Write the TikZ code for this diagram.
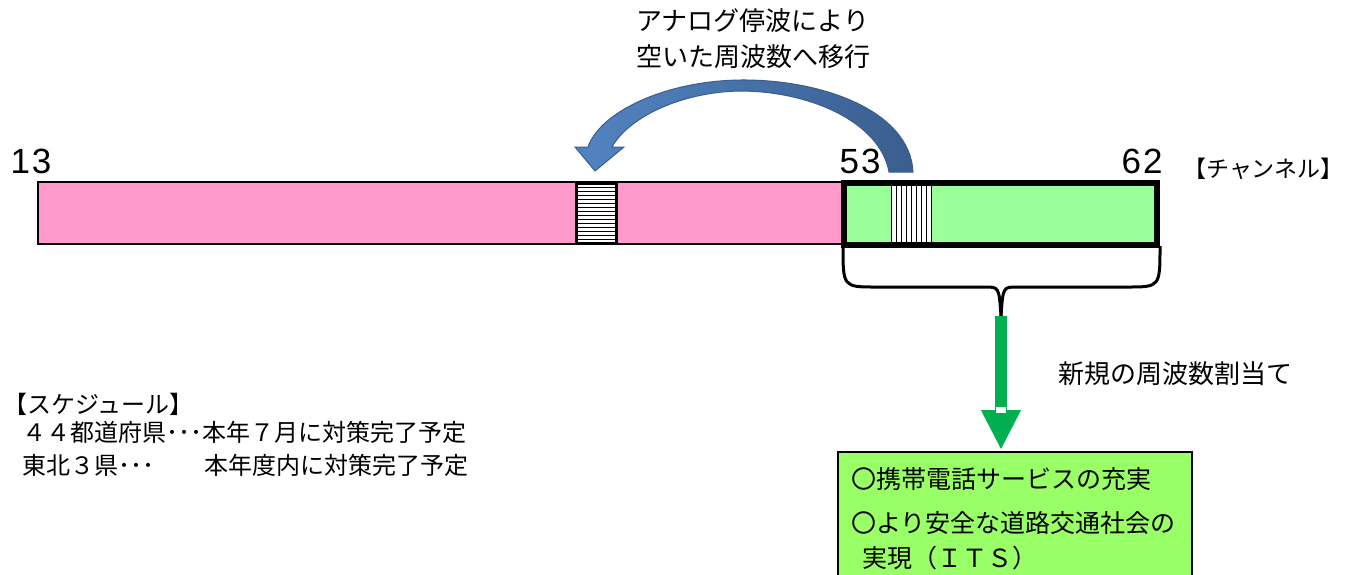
\documentclass[tikz,border=0pt]{standalone}
\usepackage{fontspec}
\setmainfont{Liberation Sans}
\newfontfamily\jpfont{Noto Sans CJK JP}
\usetikzlibrary{arrows.meta}
\definecolor{bandpink}{RGB}{255,153,204}
\definecolor{bandgreen}{RGB}{153,255,153}
\definecolor{boxgreen}{RGB}{153,255,102}
\definecolor{arrowgreen}{RGB}{0,176,80}
\definecolor{bluelight}{RGB}{82,132,194}
\definecolor{bluedark}{RGB}{58,94,142}
\tikzset{
  jptext/.style={inner sep=0pt,anchor=base west,font=\jpfont\fontsize{26}{30}\selectfont},
  chnum/.style={inner sep=0pt,anchor=base,font=\fontsize{35}{35}\selectfont}
}
\begin{document}
\begin{tikzpicture}[x=1pt,y=-1pt]
\clip (0,0) rectangle (1348,574);
\fill[white] (0,0) rectangle (1348,574);
\draw[line width=1.5pt,fill=bandpink] (38,182) rectangle (843,244);
\draw[line width=6pt,fill=bandgreen] (844,182.5) rectangle (1157,245);
\filldraw[fill=white,draw=black,line width=3pt] (576,183) rectangle (616,243);
\foreach \y in {187,191,...,240}
\draw[line width=1pt] (577,\y) -- (615,\y);
\filldraw[fill=white,draw=black,line width=1pt] (891,185.5) rectangle (931,242);
\foreach \x in {896,901,...,927}
\draw[line width=1pt] (\x,185.5) -- (\x,242);
\node[chnum] (n13) at (31,173) {1\kern2pt3};
\node[chnum] (n53) at (860,173) {5\kern2pt3};
\node[chnum] (n62) at (1142,173) {6\kern2pt2};
\node[jptext,font=\jpfont\fontsize{23}{26}\selectfont] (chlabel) at (1183,177) {【チャンネル】};
\shadedraw[left color=bluelight,right color=bluedark,draw=bluedark,line width=1pt]
  (913,172) .. controls (910,110) and (820,79) .. (740,80)
  .. controls (665,81) and (600,112) .. (588,147)
  -- (575,147) -- (595,171) -- (624,147) -- (612,147)
  .. controls (628,118) and (680,92) .. (740,91)
  .. controls (810,91) and (880,122) .. (889,172) -- cycle;
\node[jptext] (move1) at (636,30) {アナログ停波により};
\node[jptext] (move2) at (636,66) {空いた周波数へ移行};
\coordinate (bl) at (843,246);
\coordinate (br) at (1160,246);
\coordinate (bm) at (1001,316);
\draw[line width=3pt]
  (bl) .. controls (843,287) .. (876,287) -- (985,287) .. controls (999,287) .. (bm);
\draw[line width=3pt]
  (br) .. controls (1160,287) .. (1127,287) -- (1017,287) .. controls (1003,287) .. (bm);
\node[jptext] (alloc) at (1058,383) {新規の周波数割当て};
\draw[fill=boxgreen,line width=2pt] (838,452) rectangle (1192,590);
\coordinate (use) at (1001,450);
\draw[arrowgreen,line width=12pt,-{Triangle[width=37pt,length=40pt]}] (bm) -- (use);
\fill[white] (996,407) rectangle (1006,413);
\node[jptext,font=\jpfont\fontsize{25}{30}\selectfont] (use1) at (851,488) {〇携帯電話サービスの充実};
\node[jptext,font=\jpfont\fontsize{25}{30}\selectfont] (use2) at (851,532) {〇より安全な道路交通社会の};
\node[jptext,font=\jpfont\fontsize{25}{30}\selectfont] (use3) at (862,567) {実現（ＩＴＳ）};
\node[jptext,font=\jpfont\fontsize{24}{30}\selectfont] (sched) at (3,413) {【スケジュール】};
\node[jptext,font=\jpfont\fontsize{24}{30}\selectfont] (sched1) at (22,441) {４４都道府県･･･本年７月に対策完了予定};
\node[jptext,font=\jpfont\fontsize{24}{30}\selectfont] (sched2) at (22,474) {東北３県･･･\hspace{50pt}本年度内に対策完了予定};
\end{tikzpicture}
\end{document}
